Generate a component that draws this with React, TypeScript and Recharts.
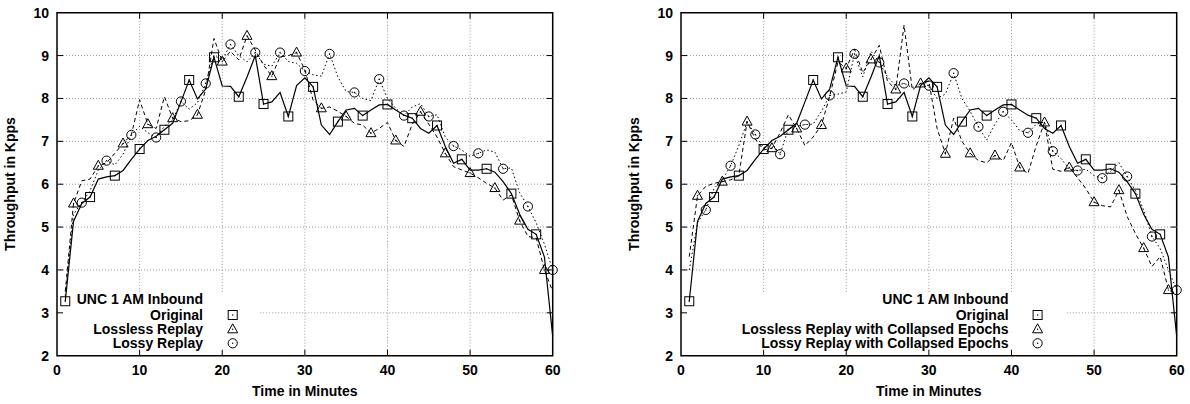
import { Line, LineChart, ReferenceArea, ReferenceLine, XAxis, YAxis } from 'recharts'

// minutes 1..60
const minutes = [
  1, 2, 3, 4, 5, 6, 7, 8, 9, 10, 11, 12, 13, 14, 15, 16, 17, 18, 19, 20,
  21, 22, 23, 24, 25, 26, 27, 28, 29, 30, 31, 32, 33, 34, 35, 36, 37, 38, 39, 40,
  41, 42, 43, 44, 45, 46, 47, 48, 49, 50, 51, 52, 53, 54, 55, 56, 57, 58, 59, 60,
]

const original = [
  3.27, 5.13, 5.55, 5.7, 6.12, 6.17, 6.2, 6.32, 6.58, 6.82, 7.02, 7.12, 7.27, 7.42, 7.92, 8.43, 7.99, 8.22, 8.96, 8.29,
  8.28, 8.04, 8.5, 9.0, 7.87, 7.92, 8.14, 7.58, 8.3, 8.48, 8.27, 7.38, 7.16, 7.46, 7.73, 7.77, 7.6, 7.73, 7.85, 7.86,
  7.73, 7.61, 7.54, 7.3, 7.19, 7.37, 6.88, 6.49, 6.58, 6.33, 6.33, 6.36, 6.28, 6.06, 5.78, 5.3, 4.95, 4.83, 4.3, 2.45,
]

const losslessReplay = [
  3.5, 5.55, 6.08, 6.12, 6.43, 6.5, 6.72, 6.95, 7.15, 7.97, 7.4, 7.3, 8.04, 7.54, 7.46, 7.48, 7.62, 8.2, 9.4, 8.86,
  9.1, 8.9, 9.46, 9.13, 8.78, 8.52, 8.97, 9.0, 9.07, 8.67, 7.96, 7.77, 7.8, 7.7, 7.58, 7.42, 7.38, 7.19, 7.3, 7.44,
  7.02, 6.88, 7.4, 7.69, 7.4, 7.1, 6.72, 6.41, 6.33, 6.26, 6.15, 6.02, 5.91, 5.63, 5.75, 5.15, 4.78, 4.75, 4.0, 3.5,
]

const lossyReplay = [
  3.4, 5.3, 5.57, 5.85, 6.33, 6.55, 6.45, 6.7, 7.15, 7.35, 7.2, 7.09, 7.35, 7.5, 7.93, 7.75, 7.9, 8.35, 9.0, 8.9,
  9.26, 9.0, 8.85, 9.07, 8.8, 8.75, 9.07, 8.86, 8.82, 8.64, 8.55, 8.52, 9.04, 8.5, 8.16, 8.14, 8.0, 7.95, 8.45, 8.0,
  7.77, 7.6, 7.8, 7.88, 7.58, 7.62, 7.1, 6.89, 6.8, 6.65, 6.72, 6.8, 6.75, 6.36, 6.38, 5.8, 5.48, 5.1, 4.6, 4.0,
]

const losslessCollapsed = [
  4.31, 5.73, 5.95, 6.02, 6.06, 6.1, 6.2, 7.46, 7.05, 6.8, 6.84, 7.2, 7.62, 7.3, 6.9, 7.1, 7.38, 8.05, 8.85, 8.7,
  9.15, 8.6, 8.91, 9.24, 8.4, 8.21, 9.71, 8.2, 8.35, 8.4, 7.3, 6.71, 7.54, 7.0, 6.72, 6.55, 6.5, 6.67, 6.55, 6.97,
  6.39, 6.25, 6.9, 7.44, 6.35, 6.3, 6.39, 6.15, 5.9, 5.58, 5.5, 5.47, 5.86, 5.25, 4.85, 4.51, 4.08, 4.31, 3.53, 3.45,
]

const lossyCollapsed = [
  4.0, 5.1, 5.4, 5.9, 6.1, 6.43, 6.9, 7.45, 7.16, 6.85, 6.95, 6.7, 7.3, 7.35, 7.39, 7.4, 7.7, 8.07, 8.1, 8.15,
  9.04, 8.5, 9.1, 8.84, 8.5, 8.3, 8.35, 8.25, 8.35, 8.3, 8.0, 8.1, 8.59, 8.0, 7.7, 7.34, 7.03, 7.4, 7.69, 7.5,
  7.25, 7.2, 7.4, 7.45, 6.77, 6.6, 6.35, 6.32, 6.35, 6.2, 6.14, 6.3, 6.5, 6.18, 5.85, 5.4, 4.78, 4.5, 4.0, 3.53,
]

const xTicks = [0, 10, 20, 30, 40, 50, 60]
const yTicks = [2, 3, 4, 5, 6, 7, 8, 9, 10]
const legendTitle = 'UNC 1 AM Inbound'

const FONT = {
  fontFamily: '"Liberation Sans", Arial, Helvetica, sans-serif',
  fontWeight: 700,
  fontSize: 14,
  fill: '#000',
}

const CHART_W = 595
const CHART_H = 404
const PLOT_LEFT = 57
const PLOT_TOP = 12.7
const PLOT_W = 495.7
const PLOT_H = 343
const X_GAP = 9
const Y_GAP = 8
const TICK_LEN = 6
const GRID = '#9a9a9a'

type Shape = 'square' | 'triangle' | 'circle'

function Marker({ shape, cx, cy }: { shape: Shape; cx: number; cy: number }) {
  const s = { fill: 'none', stroke: '#000', strokeWidth: 1 }
  return (
    <g>
      {shape === 'square' && <rect x={cx - 4.5} y={cy - 4.5} width={9} height={9} {...s} />}
      {shape === 'triangle' && (
        <polygon points={`${cx},${cy - 5.5} ${cx - 5},${cy + 3.5} ${cx + 5},${cy + 3.5}`} {...s} />
      )}
      {shape === 'circle' && <circle cx={cx} cy={cy} r={4.6} {...s} />}
      <circle cx={cx} cy={cy} r={0.7} fill="#000" />
    </g>
  )
}

const markerDot = (shape: Shape, phase: number) => (props: any) => {
  const { cx, cy, index } = props
  if (index % 3 !== phase || cx == null || cy == null) return <g key={`e-${shape}-${index}`} />
  return (
    <g key={`m-${shape}-${index}`}>
      <Marker shape={shape} cx={cx} cy={cy} />
    </g>
  )
}

const XTick = (props: any) => {
  const { x, y, payload } = props
  const axisY = y - X_GAP
  const edge = payload.value === 0 || payload.value === 60
  return (
    <g>
      {!edge && (
        <>
          <line x1={x} x2={x} y1={axisY} y2={axisY - TICK_LEN} stroke="#000" />
          <line x1={x} x2={x} y1={axisY - PLOT_H} y2={axisY - PLOT_H + TICK_LEN} stroke="#000" />
        </>
      )}
      <text x={x} y={y} dy="0.71em" textAnchor="middle" style={FONT}>
        {payload.value}
      </text>
    </g>
  )
}

const YTick = (props: any) => {
  const { x, y, payload } = props
  const axisX = x + Y_GAP
  const edge = payload.value === 2 || payload.value === 10
  return (
    <g>
      {!edge && (
        <>
          <line x1={axisX} x2={axisX + TICK_LEN} y1={y} y2={y} stroke="#000" />
          <line x1={axisX + PLOT_W} x2={axisX + PLOT_W - TICK_LEN} y1={y} y2={y} stroke="#000" />
        </>
      )}
      <text x={x} y={y} dy="0.355em" textAnchor="end" style={FONT}>
        {payload.value}
      </text>
    </g>
  )
}

interface SeriesDef {
  key: string
  label: string
  values: number[]
  shape: Shape
  phase: number
  dash?: string
  width: number
}

interface PanelProps {
  left: number
  series: SeriesDef[]
  keyEndX: number // legend box right edge, in minutes
  textRight: number
  markerX: number
}

function Panel({ left, series, keyEndX, textRight, markerX }: PanelProps) {
  const data = minutes.map((minute, i) => {
    const row: Record<string, number> = { minute }
    for (const s of series) row[s.key] = s.values[i]
    return row
  })
  const keyTop = 3.49

  return (
    <div style={{ position: 'absolute', left, top: 0, width: CHART_W, height: CHART_H }}>
      <LineChart
        width={CHART_W}
        height={CHART_H}
        data={data}
        margin={{ top: PLOT_TOP, right: CHART_W - PLOT_LEFT - PLOT_W, bottom: 0, left: 0 }}
      >
        {yTicks
          .filter((v) => v > 2 && v < 10)
          .map((v) => (
            <ReferenceLine
              key={`h${v}`}
              segment={[
                { x: v < keyTop ? keyEndX : 0, y: v },
                { x: 60, y: v },
              ]}
              stroke={GRID}
              strokeDasharray="1 2"
            />
          ))}
        {xTicks
          .filter((v) => v > 0 && v < 60)
          .map((v) => (
            <ReferenceLine
              key={`v${v}`}
              segment={[
                { x: v, y: v < keyEndX ? keyTop : 2 },
                { x: v, y: 10 },
              ]}
              stroke={GRID}
              strokeDasharray="1 2"
            />
          ))}
        <XAxis
          dataKey="minute"
          type="number"
          domain={[0, 60]}
          ticks={xTicks}
          height={CHART_H - PLOT_TOP - PLOT_H}
          axisLine={false}
          tickLine={false}
          tickSize={0}
          tickMargin={X_GAP}
          tick={XTick}
          interval={0}
        />
        <YAxis
          type="number"
          domain={[2, 10]}
          ticks={yTicks}
          width={PLOT_LEFT}
          axisLine={false}
          tickLine={false}
          tickSize={0}
          tickMargin={Y_GAP}
          tick={YTick}
          interval={0}
        />
        {series.map((s) => (
          <Line
            key={s.key}
            type="linear"
            dataKey={s.key}
            stroke="#000"
            strokeWidth={s.width}
            strokeDasharray={s.dash}
            dot={markerDot(s.shape, s.phase)}
            activeDot={false}
            isAnimationActive={false}
          />
        ))}
        <ReferenceArea x1={0} x2={60} y1={2} y2={10} fill="none" stroke="#000" strokeWidth={1.5} />
      </LineChart>
      <svg
        width={CHART_W}
        height={CHART_H}
        style={{ position: 'absolute', left: 0, top: 0, pointerEvents: 'none' }}
      >
        <text x={textRight} y={299.3} dy="0.355em" textAnchor="end" style={FONT}>
          {legendTitle}
        </text>
        {series.map((s, i) => {
          const cy = [315, 329.3, 343.3][i]
          return (
            <g key={s.key}>
              <text x={textRight} y={cy} dy="0.355em" textAnchor="end" style={FONT}>
                {s.label}
              </text>
              <Marker shape={s.shape} cx={markerX} cy={cy} />
            </g>
          )
        })}
        <text
          x={PLOT_LEFT + PLOT_W / 2}
          y={391}
          dy="0.355em"
          textAnchor="middle"
          style={FONT}
        >
          Time in Minutes
        </text>
      </svg>
    </div>
  )
}

export default function App() {
  return (
    <div
      style={{
        position: 'fixed',
        left: 0,
        top: 0,
        width: 1190,
        height: 404,
        overflow: 'hidden',
        background: '#fff',
      }}
    >
      <Panel
        left={0}
        keyEndX={24.6}
        textRight={203}
        markerX={232.7}
        series={[
          { key: 'original', label: 'Original', values: original, shape: 'square', phase: 0, width: 1.2 },
          { key: 'lossless', label: 'Lossless Replay', values: losslessReplay, shape: 'triangle', phase: 1, dash: '4 3', width: 1 },
          { key: 'lossy', label: 'Lossy Replay', values: lossyReplay, shape: 'circle', phase: 2, dash: '1.5 2.5', width: 1 },
        ]}
      />
      <Panel
        left={623.7}
        keyEndX={46.7}
        textRight={384.6}
        markerX={413.6}
        series={[
          { key: 'original', label: 'Original', values: original, shape: 'square', phase: 0, width: 1.2 },
          { key: 'lossless', label: 'Lossless Replay with Collapsed Epochs', values: losslessCollapsed, shape: 'triangle', phase: 1, dash: '4 3', width: 1 },
          { key: 'lossy', label: 'Lossy Replay with Collapsed Epochs', values: lossyCollapsed, shape: 'circle', phase: 2, dash: '1.5 2.5', width: 1 },
        ]}
      />
      <svg
        width={1190}
        height={404}
        style={{ position: 'absolute', left: 0, top: 0, pointerEvents: 'none' }}
      >
        <text x={10} y={184} transform="rotate(-90 10 184)" dy="0.355em" textAnchor="middle" style={FONT}>
          Throughput in Kpps
        </text>
        <text x={634.5} y={184} transform="rotate(-90 634.5 184)" dy="0.355em" textAnchor="middle" style={FONT}>
          Throughput in Kpps
        </text>
      </svg>
    </div>
  )
}
